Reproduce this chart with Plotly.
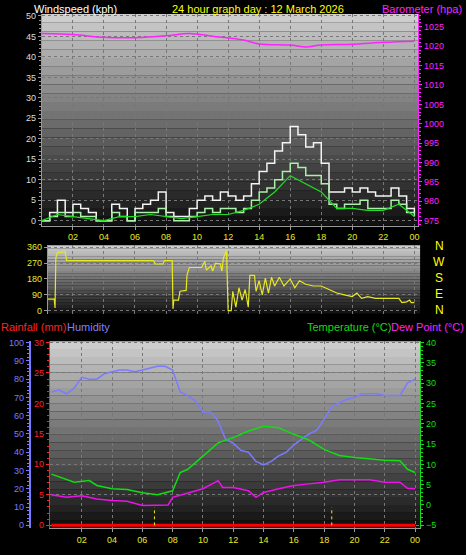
import plotly.graph_objects as go

W, H = 466, 555
# ---- data ----
half_hours = [i * 0.5 for i in range(49)]
wind_gust = [0,2,5,2,4,3,2,0,0,4,3,0,3,4,5,7,2,1,1,3,5,6,5,7,6,5,6,9,12,14,17,19,23,21,18,19,14,7,7,8,7,8,7,6,6,8,6,3,2]
wind_speed = [0,1,2,1,2,1,1,0,0,2,1,0,2,2,2,3,1,0,0,1,2,3,2,3,3,2,3,5,7,8,10,12,14,13,11,11,9,4,3,4,4,5,3,3,3,5,4,2,1]
avg_hours = [0,1,2,3,4,5,6,7,8,9,10,11,12,13,14,15,16,17,18,19,20,21,22,23,24]
wind_avg = [0,1.5,1,0.5,0,1,1,1.5,1,0.5,1,1.5,1.5,2.5,4,7,11,9,7,3,3,2.5,2.5,4,1]
baro_hours = [0,2,4,6,8,9.5,11,13,14,16,17,18,20,22,24]
baro = [1023.3,1023,1022.3,1022.2,1022.7,1023.3,1022.6,1021.6,1020.6,1020.3,1019.8,1020.3,1020.5,1021,1021.3]
dir_hours = [0,0.8,0.85,0.9,1.0,1.5,1.6,7.2,7.3,7.8,7.9,8.4,8.45,8.5,8.8,8.9,9.3,9.35,9.5,10.3,10.5,10.6,10.9,11.0,11.2,11.5,11.6,11.7,11.9,12.0,12.2,12.3,12.5,12.7,12.9,13.1,13.3,13.4,13.7,13.8,14.0,14.2,14.4,14.6,14.8,15,15.3,15.6,16,16.3,16.6,17,17.5,18,18.5,19,19.5,20,20.3,20.6,21,21.5,22,22.5,23,23.2,23.5,23.7,23.8,24]
wind_dir = [65,65,15,300,330,335,285,285,265,265,285,285,10,60,60,110,115,200,245,245,280,230,255,225,270,265,225,300,340,0,0,110,20,130,60,120,20,200,200,110,170,90,185,100,190,140,190,140,180,130,170,150,140,140,120,100,90,80,100,70,80,70,70,70,70,45,50,60,45,45]
hum_hours = half_hours
humidity = [73,74,72,75,81,80,80,83,84,85,85,84,85,86,87,87,85,73,71,68,62,62,57,47,45,41,40,35,33,35,38,40,44,47,50,52,58,65,67,69,70,72,72,72,71,71,71,78,80]
temp_hours = [0,1.5,2.5,3,4,5,6,7,8,8.5,9,10,11,12,13,14,15,16,17,18,19,20,21,22,23,23.5,24]
temperature = [7.6,5.6,6,4.8,4,3.8,3,2.5,3.5,8,8.8,12,15.3,16.6,18.2,19.4,19,17.4,16,13.7,12.2,11.7,11.4,11,10.9,8.8,8]
dew_hours = [0,1,2,3,4,5,6,7,7.7,8,9,10,11,11.3,12,13,13.5,14,15,16,17,18,19,20,21,22,23,23.5,24]
dewpoint = [2.5,1.9,2.3,1.5,1.1,0.9,-0.1,-0.1,0,1.9,2.9,4,6,4.3,4.3,3.5,1.9,3.1,4,4.8,5.2,5.6,6.2,6.2,6.2,5.6,5.6,4.1,4]
rain_hours = [0,24]
rainfall = [0,0]
sun_times = [6.8, 18.5]
hour_ticks = [2,4,6,8,10,12,14,16,18,20,22,24]
hour_labels = ["02","04","06","08","10","12","14","16","18","20","22","00"]
compass = ["N","W","S","E","N"]

def px(x): return x / W
def py(y): return 1 - y / H

fig = go.Figure()
FONT = "Liberation Sans, Arial"

fig.add_trace(go.Scatter(x=half_hours, y=wind_gust, mode="lines", line=dict(color="#f4f4f4", width=1.5, shape="hv"), xaxis="x", yaxis="y"))
fig.add_trace(go.Scatter(x=half_hours, y=wind_speed, mode="lines", line=dict(color="#aaf0aa", width=1.5, shape="hv"), xaxis="x", yaxis="y"))
fig.add_trace(go.Scatter(x=avg_hours, y=wind_avg, mode="lines", line=dict(color="#22dd22", width=1.2), xaxis="x", yaxis="y"))
fig.add_trace(go.Scatter(x=baro_hours, y=baro, mode="lines", line=dict(color="#ff22ff", width=1.5, shape="spline"), xaxis="x", yaxis="y2"))
fig.add_trace(go.Scatter(x=dir_hours, y=wind_dir, mode="lines", line=dict(color="#e8e820", width=1.2), xaxis="x2", yaxis="y3"))
fig.add_trace(go.Scatter(x=hum_hours, y=humidity, mode="lines", line=dict(color="#7b7bff", width=1.5), xaxis="x3", yaxis="y4"))
fig.add_trace(go.Scatter(x=temp_hours, y=temperature, mode="lines", line=dict(color="#11dd11", width=1.5), xaxis="x3", yaxis="y6"))
fig.add_trace(go.Scatter(x=dew_hours, y=dewpoint, mode="lines", line=dict(color="#ee11ee", width=1.5), xaxis="x3", yaxis="y6"))
fig.add_trace(go.Scatter(x=rain_hours, y=rainfall, mode="lines", line=dict(color="#ff0000", width=3), xaxis="x3", yaxis="y5"))

grid = dict(showgrid=True, gridcolor="#777777", griddash="dot", gridwidth=1, zeroline=False)
lay = dict(
    width=W, height=H, margin=dict(l=0, r=0, t=0, b=0),
    paper_bgcolor="black", plot_bgcolor="black", showlegend=False,
    font=dict(family=FONT, size=9),
    xaxis=dict(domain=[px(42), px(419)], range=[0, 24.24], tickvals=hour_ticks, ticktext=hour_labels,
               tickfont=dict(family=FONT, size=9, color="#e8e820"), ticks="outside", ticklen=3, tickcolor="#999",
               showline=True, linecolor="#999", anchor="y", **grid),
    yaxis=dict(domain=[py(224), py(10)], range=[-1.2, 50.5], dtick=5, tickfont=dict(family=FONT, size=9, color="#dddddd"),
               ticks="outside", ticklen=3, tickcolor="#999", showline=True, linecolor="#999",
               minor=dict(ticks="outside", ticklen=2, dtick=1, tickcolor="#999"), **grid),
    yaxis2=dict(overlaying="y", side="right", anchor="x", range=[975 - 5 / 3.88, 1028.35], tickvals=list(range(975, 1030, 5)),
                tickfont=dict(family=FONT, size=9, color="#ff22ff"), ticks="outside", ticklen=3, tickcolor="#ff22ff",
                showline=True, linecolor="#ff22ff", showgrid=False, zeroline=False,
                minor=dict(ticks="outside", ticklen=2, dtick=1, tickcolor="#ff22ff")),
    xaxis2=dict(domain=[px(48), px(421)], range=[0.39, 24.37], anchor="y3", tickvals=hour_ticks, showticklabels=False, **grid),
    yaxis3=dict(domain=[py(313), py(244)], range=[-17, 371], tickvals=[0, 90, 180, 270, 360], anchor="x2",
                tickfont=dict(family=FONT, size=9, color="#e8e820"), ticks="outside", ticklen=3, tickcolor="#999",
                showline=True, linecolor="#999", **grid),
    xaxis3=dict(domain=[px(50), px(421)], range=[-0.1, 24.33], anchor="y5", tickvals=hour_ticks, ticktext=hour_labels,
                tickfont=dict(family=FONT, size=9, color="#e8e820"), ticks="outside", ticklen=3, tickcolor="#999",
                showline=True, linecolor="#999", **grid),
    yaxis5=dict(domain=[py(530), py(341)], range=[-0.5, 30.2], dtick=5, anchor="x3",
                tickfont=dict(family=FONT, size=9, color="#ff2222"), ticks="outside", ticklen=3, tickcolor="#ff2222",
                showline=True, linecolor="#ff2222", minor=dict(ticks="outside", ticklen=2, dtick=1, tickcolor="#ff2222"), **grid),
    yaxis4=dict(overlaying="y5", anchor="free", position=px(30), side="left", range=[-1.6, 100.7], dtick=10,
                tickfont=dict(family=FONT, size=9, color="#7b7bff"), ticks="outside", ticklen=3, tickcolor="#7b7bff",
                showline=True, linecolor="#7b7bff", linewidth=2, showgrid=False, zeroline=False,
                minor=dict(ticks="outside", ticklen=2, dtick=2, tickcolor="#7b7bff")),
    yaxis6=dict(overlaying="y5", side="right", anchor="x3", range=[-5.73, 40.3], dtick=5,
                tickfont=dict(family=FONT, size=9, color="#11dd11"), ticks="outside", ticklen=3, tickcolor="#11dd11",
                showline=True, linecolor="#11dd11", showgrid=False, zeroline=False,
                minor=dict(ticks="outside", ticklen=2, dtick=1, tickcolor="#11dd11")),
)
fig.update_layout(**lay)

shapes = []
N = 24
for xr, yr in [("x domain", "y domain"), ("x2 domain", "y3 domain"), ("x3 domain", "y5 domain")]:
    for i in range(N):
        t = i / N
        g = int(205 - 195 * t)
        shapes.append(dict(type="rect", xref=xr, yref=yr, x0=0, x1=1, y0=1 - (i + 1) / N, y1=1 - i / N,
                           fillcolor=f"rgb({g},{g},{g})", line=dict(width=0), layer="below"))
for s in sun_times:
    shapes.append(dict(type="line", xref="x3", yref="y4", x0=s, x1=s, y0=0, y1=10,
                       line=dict(color="#e8e820", width=1, dash="dot")))
fig.update_layout(shapes=shapes)

ann = [
    dict(x=px(33), y=py(5), text="Windspeed (kph)", font=dict(color="white", size=11), xanchor="left"),
    dict(x=px(171), y=py(5), text="24 hour graph day : 12 March 2026", font=dict(color="#ffff00", size=11), xanchor="left"),
    dict(x=px(464), y=py(5), text="Barometer (hpa)", font=dict(color="#ff22ff", size=11), xanchor="right"),
    dict(x=px(0), y=py(327), text="Rainfall (mm)", font=dict(color="#ff2222", size=11), xanchor="left"),
    dict(x=px(66), y=py(327), text="Humidity", font=dict(color="#8080ff", size=11), xanchor="left"),
    dict(x=px(393), y=py(327), text="Temperature (°C)", font=dict(color="#11dd11", size=11), xanchor="right"),
    dict(x=px(466), y=py(327), text="Dew Point (°C)", font=dict(color="#ff22ff", size=11), xanchor="right"),
]
for a in ann:
    a.update(xref="paper", yref="paper", yanchor="middle", showarrow=False, borderpad=0)
    a["font"]["family"] = FONT
for i, c in enumerate(compass):
    ann.append(dict(xref="paper", yref="paper", x=px(440), y=py(245 + i * 16), text=c, showarrow=False,
                    font=dict(family=FONT, size=12, color="#ffff00"), xanchor="center", yanchor="middle"))
fig.update_layout(annotations=ann)

fig.write_html("out.html", config={"displayModeBar": False},
               post_script="document.body.style.margin='0';document.body.style.background='black';")
